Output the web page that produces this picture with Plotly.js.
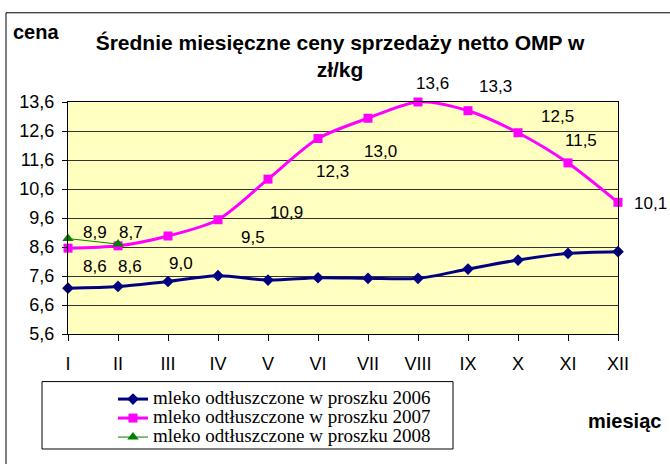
<!DOCTYPE html>
<html>
<head>
<meta charset="utf-8">
<script src="https://cdn.plot.ly/plotly-3.0.1.min.js"></script>
<style>
  html, body { margin: 0; padding: 0; background: #fff; }
  #chart { width: 670px; height: 464px; }
  #chart .legend .legendtext { font-size: 19px !important; }
  #chart .legend .scrollbox, #chart .legend { clip-path: none !important; }
</style>
</head>
<body>
<div id="chart"></div>
<script>
// ---- data ----
const months = ['I', 'II', 'III', 'IV', 'V', 'VI', 'VII', 'VIII', 'IX', 'X', 'XI', 'XII'];
const values2006 = [7.18, 7.24, 7.41, 7.61, 7.46, 7.54, 7.52, 7.52, 7.84, 8.15, 8.38, 8.44];
const values2007 = [8.56, 8.64, 8.98, 9.54, 10.94, 12.34, 13.04, 13.60, 13.30, 12.54, 11.50, 10.14];
const values2008 = [8.89, 8.70];
const seriesNames = [
  'mleko odtłuszczone w proszku 2006',
  'mleko odtłuszczone w proszku 2007',
  'mleko odtłuszczone w proszku 2008'
];
const yTicks = [5.6, 6.6, 7.6, 8.6, 9.6, 10.6, 11.6, 12.6, 13.6];

// ---- label offsets (style only, pixels) ----
const shift2007 = [[27,-18],[12,-21],[13,-28],[35,-18],[18,-33],[14,-33],[12,-33],[14,19],[27,24],[39,16],[13,22],[32,-1]];
const shift2008 = [[27,6],[13,12]];

const idx = months.map((_, i) => i);
const fmt = v => v.toFixed(1).replace('.', ',');

const traces = [
  {
    x: idx, y: values2006, name: seriesNames[0], type: 'scatter', mode: 'lines+markers',
    line: { color: '#000080', width: 3, shape: 'spline', smoothing: 0.8 },
    marker: { symbol: 'diamond', size: 9, color: '#000080' },
    cliponaxis: false
  },
  {
    x: idx, y: values2007, name: seriesNames[1], type: 'scatter', mode: 'lines+markers',
    line: { color: '#FF00FF', width: 3, shape: 'spline', smoothing: 0.8 },
    marker: { symbol: 'square', size: 9, color: '#FF00FF' },
    cliponaxis: false
  },
  {
    x: idx.slice(0, values2008.length), y: values2008, name: seriesNames[2], type: 'scatter', mode: 'lines+markers',
    line: { color: '#008000', width: 1 },
    marker: { symbol: 'triangle-up', size: 10, color: '#008000' },
    cliponaxis: false
  }
];

const labelFont = { family: 'Liberation Sans, Arial, sans-serif', size: 17, color: '#000' };
const annotations = [];
values2007.forEach((v, i) => annotations.push({
  x: idx[i], y: v, xref: 'x', yref: 'y', text: fmt(v), showarrow: false,
  xshift: shift2007[i][0], yshift: shift2007[i][1], font: labelFont
}));
values2008.forEach((v, i) => annotations.push({
  x: idx[i], y: v, xref: 'x', yref: 'y', text: fmt(v), showarrow: false,
  xshift: shift2008[i][0], yshift: shift2008[i][1], font: labelFont
}));
const boldFont = { family: 'Liberation Sans, Arial, sans-serif', size: 20, color: '#000' };
annotations.push({ xref: 'paper', yref: 'paper', x: (11 - 68) / 550, y: (336 - 31) / 234,
  xanchor: 'left', yanchor: 'middle', text: '<b>cena</b>', showarrow: false, font: boldFont });
annotations.push({ xref: 'paper', yref: 'paper', x: (663 - 68) / 550, y: (336 - 424) / 234,
  xanchor: 'right', yanchor: 'middle', text: '<b>miesiąc</b>', showarrow: false, font: boldFont });

const layout = {
  width: 670, height: 464,
  margin: { l: 68, r: 52, t: 102, b: 128 },
  paper_bgcolor: '#FFFFFF',
  plot_bgcolor: '#FFFFC0',
  separators: ', ',
  title: {
    text: '<b>Średnie miesięczne ceny sprzedaży netto OMP w<br>zł/kg</b>',
    x: 340 / 670, xanchor: 'center', xref: 'container',
    y: 1 - 50 / 464, yanchor: 'top', yref: 'container',
    font: { family: 'Liberation Sans, Arial, sans-serif', size: 21, color: '#000' }
  },
  xaxis: {
    range: [0, 11], tickmode: 'array', tickvals: idx, ticktext: months,
    showgrid: false, zeroline: false,
    showline: true, linecolor: '#000', linewidth: 1, mirror: true,
    ticks: 'outside', ticklen: 6, tickcolor: '#000', tickwidth: 1, ticklabelstandoff: 7,
    tickfont: { family: 'Liberation Sans, Arial, sans-serif', size: 18, color: '#000' }
  },
  yaxis: {
    range: [5.6, 13.6], tickmode: 'array', tickvals: yTicks, ticktext: yTicks.map(fmt),
    showgrid: true, gridcolor: '#333333', gridwidth: 1, zeroline: false,
    showline: true, linecolor: '#000', linewidth: 1, mirror: true,
    ticks: 'outside', ticklen: 5, tickcolor: '#000', tickwidth: 1, ticklabelstandoff: 4,
    tickfont: { family: 'Liberation Sans, Arial, sans-serif', size: 18, color: '#000' }
  },
  showlegend: true,
  legend: {
    x: (113 - 68) / 550, xanchor: 'left', y: (336 - 387) / 234, yanchor: 'top',
    bgcolor: 'rgba(0,0,0,0)', borderwidth: 0,
    font: { family: 'Liberation Serif, Times New Roman, serif', size: 12, color: '#000' }
  },
  shapes: [
    { type: 'rect', xref: 'paper', yref: 'paper',
      x0: (6 - 68) / 550, x1: (720 - 68) / 550, y0: (336 - 520) / 234, y1: (336 - 12) / 234,
      line: { color: '#000', width: 1 }, fillcolor: 'rgba(0,0,0,0)', layer: 'below' },
    { type: 'rect', xref: 'paper', yref: 'paper',
      x0: (42 - 68) / 550, x1: (453 - 68) / 550, y0: (336 - 452) / 234, y1: (336 - 384) / 234,
      line: { color: '#000', width: 1 }, fillcolor: '#FFFFFF', layer: 'below' }
  ],
  annotations: annotations
};

Plotly.newPlot('chart', traces, layout, { displayModeBar: false, staticPlot: true });
</script>
</body>
</html>
